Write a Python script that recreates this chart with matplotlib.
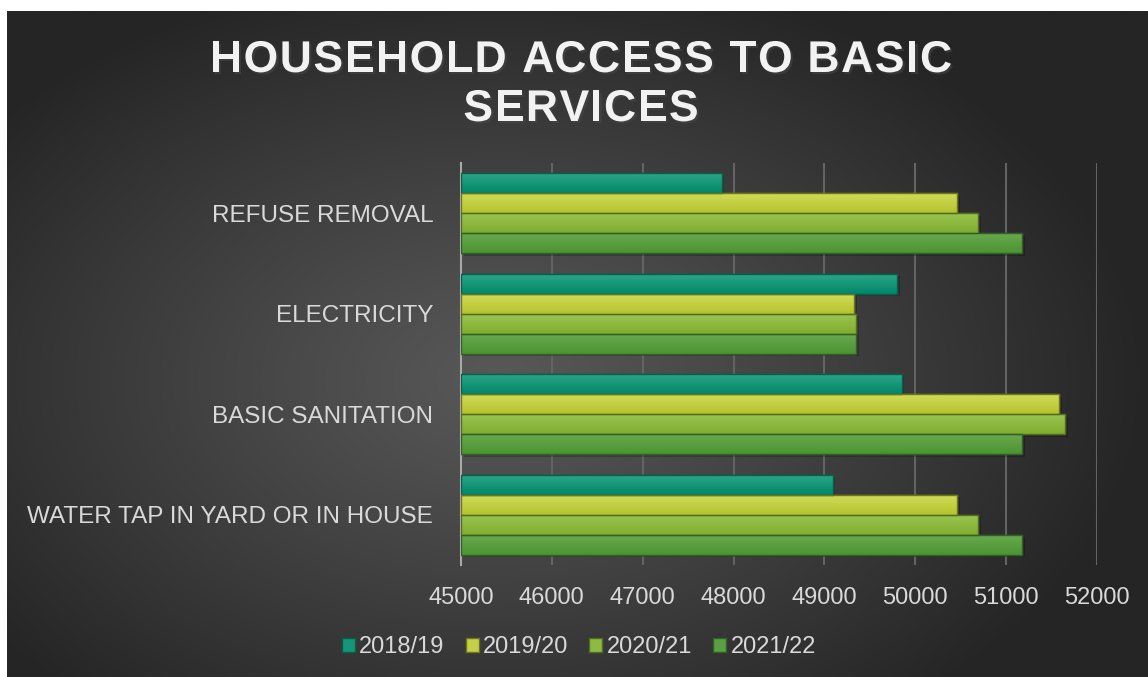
import matplotlib.pyplot as plt
import matplotlib.patheffects as pe
from matplotlib.textpath import TextToPath
from matplotlib.font_manager import FontProperties
import matplotlib.colors as mcolors
import numpy as np

# Data
categories = ['WATER TAP IN YARD OR IN HOUSE', 'BASIC SANITATION', 'ELECTRICITY', 'REFUSE REMOVAL']
years = ['2018/19', '2019/20', '2020/21', '2021/22']
v_2018 = [49090, 49850, 49800, 47870]
v_2019 = [50460, 51580, 49330, 50460]
v_2020 = [50690, 51650, 49350, 50690]
v_2021 = [51180, 51180, 49350, 51180]
ticks = [45000, 46000, 47000, 48000, 49000, 50000, 51000, 52000]
title_lines = ['HOUSEHOLD ACCESS TO BASIC', 'SERVICES']

series = [v_2018, v_2019, v_2020, v_2021]
top_cols = ['#30a789', '#d1dd58', '#9bc652', '#6aaa50']
bot_cols = ['#008769', '#b6c32f', '#80ad2f', '#4c9433']
mid_cols = ['#159679', '#c4d146', '#8eba40', '#5a9f40']
edge_cols = ['#0b5e4a', '#6e7520', '#4f6e22', '#345f26']

plt.rcParams['font.family'] = ['Liberation Sans', 'DejaVu Sans']

W, H = 1148, 677
fig = plt.figure(figsize=(W / 100, H / 100), dpi=100, facecolor='white')

# radial gradient background
bg = fig.add_axes([7 / W, 0, 1 - 7 / W, 1 - 11 / H], zorder=-5)
gx, gy = np.meshgrid(np.linspace(7, W, 400), np.linspace(11, H, 300))
r = np.sqrt(((gx - 500) / 650) ** 2 + ((gy - 380) / 420) ** 2)
level = 0x58 - (0x58 - 0x25) * np.clip(r, 0, 1) ** 1.1
img = np.dstack([level, level, level]) / 255
bg.imshow(img, extent=[0, 1, 0, 1], aspect='auto', origin='upper')
bg.axis('off')

ax = fig.add_axes([461 / W, 1 - 565 / H, (1097 - 461) / W, (565 - 163) / H])
ax.patch.set_alpha(0)

y = np.arange(len(categories))
h = 0.2
offsets = [0.3, 0.1, -0.1, -0.3]
grad = np.linspace(0, 1, 32)[:, None, None]
for j, vals in enumerate(series):
    base = ticks[0]
    widths = [v - base for v in vals]
    # soft shadow
    ax.barh(y + offsets[j] - 0.025, widths, height=h, left=base + 30, color='black',
            alpha=0.22, linewidth=0, zorder=2)
    bars = ax.barh(y + offsets[j], widths, height=h, left=base, color=mid_cols[j],
                   edgecolor=edge_cols[j], linewidth=1.0, label=years[j], zorder=3)
    c1 = np.array(mcolors.to_rgb(top_cols[j]))
    c2 = np.array(mcolors.to_rgb(bot_cols[j]))
    gimg = c1[None, None, :] * (1 - grad) + c2[None, None, :] * grad
    for b in bars:
        x0, y0 = b.get_x(), b.get_y()
        im = ax.imshow(gimg, extent=[x0, x0 + b.get_width(), y0, y0 + b.get_height()],
                       aspect='auto', origin='upper', zorder=3.5, interpolation='bilinear')
        im.set_clip_path(b)
        ax.add_patch(plt.Rectangle((x0, y0), b.get_width(), b.get_height(),
                                   fill=False, edgecolor=edge_cols[j], linewidth=1.0, zorder=4))

ax.set_xlim(45000, 52000)
ax.set_ylim(-0.5, 3.5)
ax.set_xticks(ticks)
ax.set_xticklabels([str(t) for t in ticks])
ax.set_yticks(y)
ax.set_yticklabels(categories)
ax.tick_params(axis='both', length=0, colors='#d9d9d9')
ax.tick_params(axis='x', pad=16, labelsize=17)
ax.tick_params(axis='y', pad=20, labelsize=17.5)
ax.grid(axis='x', color='#636363', linewidth=1.5, zorder=0)
ax.set_axisbelow(True)
for s in ['top', 'right', 'bottom']:
    ax.spines[s].set_visible(False)
ax.spines['left'].set_color('#a8a8a8')
ax.spines['left'].set_linewidth(1.5)

# title with letter spacing, placed char by char
tfs = 32
prop = FontProperties(family='Liberation Sans', weight='bold', size=tfs)
t2p = TextToPath()
def tw(s):
    return t2p.get_text_width_height_descent(s, prop, ismath=False)[0] * 100 / 72
spacing = 1.6
shadow = [pe.withSimplePatchShadow(offset=(1.5, -1.5), alpha=0.5)]
for line, yc in zip(title_lines, [56, 105]):
    xs = [tw(line[:k] + 'H') - tw('H') + k * spacing for k in range(len(line))]
    total = xs[-1] + tw(line[-1])
    x_start = 581 - total / 2
    for ch, xo in zip(line, xs):
        if ch == ' ':
            continue
        fig.text((x_start + xo) / W, 1 - yc / H, ch, ha='left', va='center_baseline',
                 fontproperties=prop, color='#f2f2f2', path_effects=shadow)

handles, labels = ax.get_legend_handles_labels()
leg = fig.legend(handles, labels, loc='center', bbox_to_anchor=(579 / W, 1 - 647 / H), ncol=4,
                 frameon=False, fontsize=17, handlelength=0.55, handleheight=0.55,
                 handletextpad=0.2, columnspacing=0.88, labelcolor='#d9d9d9')

fig.savefig('out.png', dpi=100, facecolor='white')
